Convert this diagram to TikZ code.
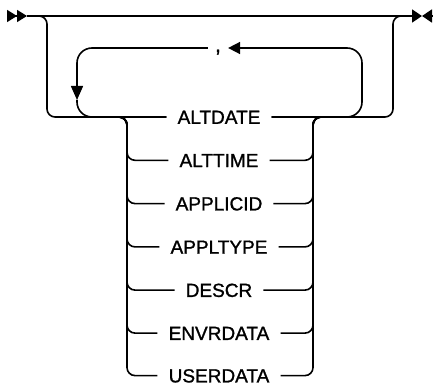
\documentclass[tikz,border=0pt]{standalone}
\usepackage{fontspec}
\setmainfont{Liberation Sans}
\newfontfamily\kwfont{Liberation Sans}[FakeBold=1.2]
\usetikzlibrary{arrows.meta}

\begin{document}
\begin{tikzpicture}[x=1pt, y=-1pt,
    rail/.style={line width=1.6pt, rounded corners=#1},
    rail/.default=8pt,
    kw/.style={font=\kwfont\fontsize{19}{19}\selectfont, inner xsep=11pt, inner ysep=0pt,
               text height=13.6pt, text depth=0pt},
    head/.style={-{Triangle[length=#1, width=12pt]}},
    head/.default=12pt,
]
    \useasboundingbox (0,0) rectangle (433,385);

    % Ends of the main line
    \coordinate (in) at (7,16);
    \coordinate (in2) at (27,16);
    \coordinate (out) at (422,16);
    \coordinate (stop) at (432,16);

    % Corners and junctions
    \coordinate (bl) at (47,117);
    \coordinate (br) at (393,117);
    \coordinate (rt) at (362,48);
    \coordinate (ld) at (77,100);
    \coordinate (jl) at (127,117);
    \coordinate (jr) at (313,117);

    % Keywords
    \node[kw] (altdate) at (219,117) {ALTDATE};
    \node[kw] (alttime) at (219,160.3) {ALTTIME};
    \node[kw] (applicid) at (219,203.6) {APPLICID};
    \node[kw] (appltype) at (219,246.9) {APPLTYPE};
    \node[kw] (descr) at (219,290.1) {DESCR};
    \node[kw] (envrdata) at (219,333.1) {ENVRDATA};
    \node[kw] (userdata) at (219,375.6) {USERDATA};
    \node[font=\kwfont\fontsize{21}{21}\selectfont, inner xsep=7pt, inner ysep=0pt,
          text height=8pt, text depth=0pt] (comma) at (218,48) {,};

    % Main line
    \draw[line width=1.6pt, -{Triangle[length=10pt, width=12pt] Triangle[length=10pt, width=12pt]}] (in) -- (in2);
    \draw[line width=1.6pt, -{Triangle[length=10pt, width=13pt]}] (in2) -- (out);
    \draw[line width=1.6pt, -{Triangle[length=10pt, width=13pt]}] (stop) -- (out);

    % Optional branch
    \draw[rail] (in2) -| (bl) -- (altdate.west);
    \draw[rail] (altdate.east) -- (br) |- ([xshift=-6pt]out);

    % Repeat loop
    \draw[rail=15pt, head] (altdate.east) -| (rt) -- (comma.east);
    \draw[rail=15pt, head=14pt] (comma.west) -| (ld);
    \draw[rail=15pt] (ld) |- (altdate.west);

    % Choices
    \foreach \k in {alttime, applicid, appltype, descr, envrdata, userdata} {
        \draw[rail] ([xshift=-12pt]jl) -| (jl |- \k.west) -- (\k.west);
        \draw[rail] (\k.east) -| (jr) -- ([xshift=12pt]jr);
    }
\end{tikzpicture}
\end{document}
